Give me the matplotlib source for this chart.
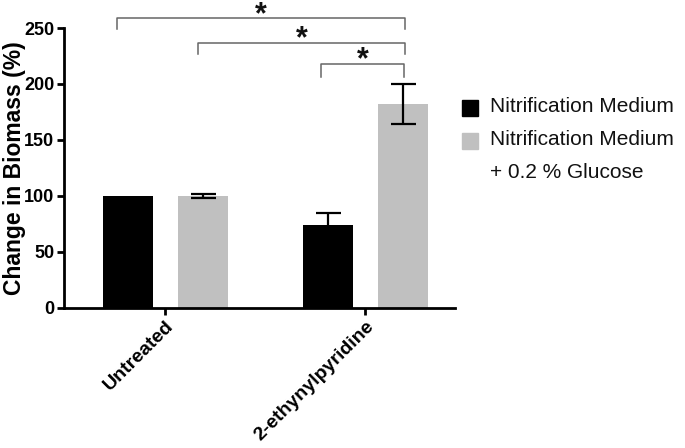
import matplotlib.pyplot as plt
import matplotlib.patches as mpatches
import numpy as np

plt.rcParams['font.family'] = ['Liberation Sans', 'DejaVu Sans']

# data
groups = ['Untreated', '2-ethynylpyridine']
series_labels = ['Nitrification Medium', 'Nitrification Medium\n+ 0.2 % Glucose']
medium = [100, 74]
medium_err = [0, 11]
glucose = [100, 182]
glucose_err = [2, 18]
colors = ['#000000', '#c0c0c0']

# significance brackets: (x_start, x_end, height, leg bottom)
brackets = [(-0.24, 1.2, 259, 249), (0.165, 1.2, 237, 227), (0.78, 1.195, 218, 206)]

W, H = 685, 448
fig = plt.figure(figsize=(W / 100, H / 100), dpi=100)
ax = fig.add_axes([64 / W, 1 - 308 / H, 391 / W, 280 / H])

x = np.arange(len(groups))
w = 0.25
off = 0.1875
ax.bar(x - off, medium, w, color=colors[0])
ax.bar(x + off, glucose, w, color=colors[1])

# error bars (skip zero-length ones)
for xs, ys, es in [(x - off, medium, medium_err), (x + off, glucose, glucose_err)]:
    for xi, yi, ei in zip(xs, ys, es):
        if ei > 0:
            ax.errorbar(xi, yi, yerr=ei, fmt='none', ecolor='black',
                        elinewidth=1.6, capsize=9, capthick=1.6)

# significance brackets
for x0, x1, h, leg in brackets:
    ax.plot([x0, x0, x1, x1], [leg, h, h, leg], color='#666666', lw=1.1,
            clip_on=False)
    ax.annotate('*', xy=((x0 + x1) / 2, h), xytext=(0, -3.5),
                textcoords='offset points', ha='center', va='baseline',
                fontsize=22, fontweight='bold', color='#111111',
                annotation_clip=False)

ax.set_xlim(-0.505, 1.45)
ax.set_ylim(0, 250)
ax.set_yticks([0, 50, 100, 150, 200, 250])
ax.set_xticks(x)
ax.set_xticklabels(groups, rotation=45, ha='right', rotation_mode='anchor',
                   fontsize=14, fontweight='bold')
for lab in ax.get_yticklabels():
    lab.set_fontweight('bold')
    lab.set_fontsize(13)
ax.set_ylabel('Change in Biomass (%)', fontsize=16.5, fontweight='bold')
ax.yaxis.set_label_coords(-0.098, 0.5)

for s in ['top', 'right']:
    ax.spines[s].set_visible(False)
for s in ['left', 'bottom']:
    ax.spines[s].set_linewidth(2)
ax.tick_params(width=2, length=5, pad=2)

# legend drawn by hand so the grey swatch sits on the first line of its label
leg_rows = [108, 141]
for color, label, yc in zip(colors, series_labels, leg_rows):
    fig.patches.append(mpatches.Rectangle((462 / W, 1 - (yc + 8) / H), 16 / W, 16 / H,
                                          transform=fig.transFigure, color=color))
    fig.text(490 / W, 1 - (yc - 11) / H, label, ha='left', va='top',
             fontsize=15, linespacing=1.9, color='#111111')

fig.savefig('out.png', dpi=100)
